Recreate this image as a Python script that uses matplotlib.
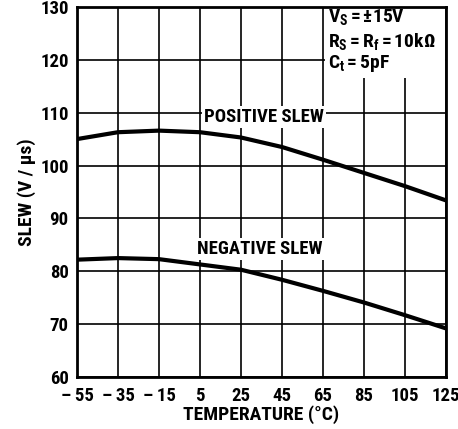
import numpy as np
import matplotlib
matplotlib.use('Agg')
import matplotlib.pyplot as plt
from matplotlib import font_manager as fm

# data
temp = [-55, -35, -15, 5, 25, 45, 65, 85, 105, 125]
pos_slew = [105.0, 106.3, 106.6, 106.3, 105.3, 103.5, 101.1, 98.6, 96.1, 93.4]
neg_slew = [82.2, 82.5, 82.3, 81.3, 80.3, 78.4, 76.3, 74.1, 71.7, 69.2]
x_ticks = [-55, -35, -15, 5, 25, 45, 65, 85, 105, 125]
x_labels = ['\u2013\u200955', '\u2013\u200935', '\u2013\u200915', '5', '25', '45', '65', '85', '105', '125']
y_ticks = [60, 70, 80, 90, 100, 110, 120, 130]

# pick a condensed bold face that is installed
have = set(f.name for f in fm.fontManager.ttflist)
cands = ['Roboto Condensed', 'Archivo Narrow', 'Fira Sans Condensed', 'PT Sans Narrow',
         'Saira SemiCondensed', 'DejaVu Sans']
face = [c for c in cands if c in have][0]

plt.rcParams['font.family'] = [face, 'DejaVu Sans']
plt.rcParams['font.weight'] = 'bold'
plt.rcParams['mathtext.fontset'] = 'custom'
plt.rcParams['mathtext.rm'] = face + ':bold'
plt.rcParams['mathtext.it'] = face + ':bold'
plt.rcParams['mathtext.bf'] = face + ':bold'

fig = plt.figure(figsize=(4.58, 4.29), dpi=100)
ax = fig.add_axes([0.168, 0.121, 0.806, 0.863])

ax.set_xlim(-55, 125)
ax.set_ylim(60, 130)
ax.set_xticks(x_ticks)
ax.set_xticklabels(x_labels)
ax.set_yticks(y_ticks)
ax.tick_params(length=0, labelsize=13.5)
ax.tick_params(axis='x', pad=7)
ax.tick_params(axis='y', pad=6)
for lab in ax.get_xticklabels() + ax.get_yticklabels():
    lab.set_fontweight('bold')
ax.grid(True, color='black', lw=1.2)
ax.set_axisbelow(True)
for s in ax.spines.values():
    s.set_linewidth(2)

ax.plot(temp, pos_slew, color='black', lw=3, solid_capstyle='butt', zorder=3)
ax.plot(temp, neg_slew, color='black', lw=3, solid_capstyle='butt', zorder=3)

# labels with white background hiding grid lines
ax.text(36, 109.2, 'POSITIVE SLEW', ha='center', va='center', fontsize=13.5,
        fontweight='bold', zorder=4,
        bbox=dict(facecolor='white', edgecolor='none', pad=1.5))
ax.text(34, 84.2, 'NEGATIVE SLEW', ha='center', va='center', fontsize=13.5,
        fontweight='bold', zorder=4,
        bbox=dict(facecolor='white', edgecolor='none', pad=1.5))

# condition box in the top right corner
ax.add_patch(plt.Rectangle((66, 116.6), 58.5, 13.2, facecolor='white',
                           edgecolor='none', zorder=2))
ax.text(67.5, 128.0, r'$\mathregular{V_S=\pm15V}$', fontsize=14, va='center', zorder=4)
ax.text(67.5, 123.5, r'$\mathregular{R_S=R_f=10k\Omega}$', fontsize=14, va='center', zorder=4)
ax.text(67.5, 119.3, r'$\mathregular{C_t=5pF}$', fontsize=14, va='center', zorder=4)

ax.set_xlabel('TEMPERATURE (\u00b0C)', fontsize=14, fontweight='bold', labelpad=0)
ax.set_ylabel('SLEW (V / \u03bcs)', fontsize=14, fontweight='bold', labelpad=3)

fig.savefig('out.png', dpi=100)
